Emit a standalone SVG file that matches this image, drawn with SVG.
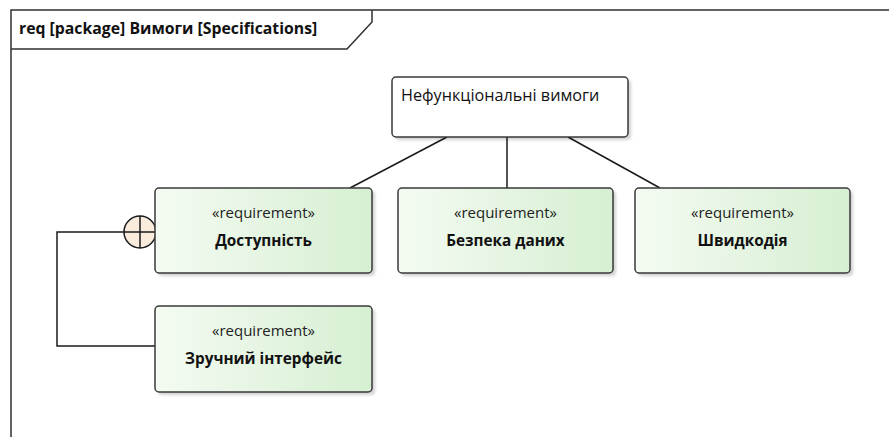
<svg xmlns="http://www.w3.org/2000/svg" width="889" height="437" viewBox="0 0 889 437">
  <style>
    .frame { fill: none; stroke: #303030; stroke-width: 1.5; }
    .line { fill: none; stroke: #1a1a1a; stroke-width: 1.5; }
    .req { fill: url(#reqFill); stroke: #3a3a3a; stroke-width: 1.5; }
    .shadow { fill: #000; opacity: 0.18; filter: url(#soft); }
    .plain { fill: #fff; stroke: #3a3a3a; stroke-width: 1.5; }
    text { font-family: "Open Sans", "Noto Sans", "Liberation Sans", sans-serif; fill: #111; }
    .title { font-size: 15.8px; font-weight: bold; }
    .stereo { font-size: 15px; text-anchor: middle; fill: #222; }
    .name { font-size: 15.3px; font-weight: bold; text-anchor: middle; }
    .label { font-size: 16.2px; }
  </style>
  <defs>
    <linearGradient id="reqFill" x1="0" y1="0" x2="1" y2="0">
      <stop offset="0" stop-color="#f4fbf2"/>
      <stop offset="1" stop-color="#d6efd2"/>
    </linearGradient>
    <filter id="soft" x="-10%" y="-10%" width="120%" height="130%">
      <feGaussianBlur stdDeviation="1.5"/>
    </filter>
  </defs>

  <rect width="889" height="437" fill="#fff"/>

  <!-- package frame (extends past the visible area) -->
  <g id="frame">
    <path class="frame" d="M11,445 L11,10 L895,10"/>
    <path class="frame" d="M11,49 L347,49 L372,22 L372,10"/>
    <text class="title" x="19" y="34">req [package] Вимоги [Specifications]</text>
  </g>

  <!-- connectors -->
  <g id="connectors">
    <line class="line" x1="447" y1="137" x2="350" y2="188"/>
    <line class="line" x1="507" y1="137" x2="507" y2="188"/>
    <line class="line" x1="568" y1="137" x2="660" y2="188"/>
    <path class="line" d="M124,232 L57,232 L57,346 L155,346"/>
    <g id="containment">
      <circle cx="140" cy="232" r="16" fill="#f9ecdc" stroke="#1a1a1a" stroke-width="1.5"/>
      <line class="line" x1="140" y1="216" x2="140" y2="248"/>
      <line class="line" x1="124" y1="232" x2="156" y2="232"/>
    </g>
  </g>

  <g id="nonfunctional">
    <rect class="shadow" x="395" y="80" width="236" height="60" rx="4"/>
    <rect class="plain" x="392" y="77" width="236" height="60" rx="4"/>
    <text class="label" x="401" y="101">Нефункціональні вимоги</text>
  </g>

  <g id="accessibility">
    <rect class="shadow" x="158" y="191" width="217" height="85" rx="4"/>
    <rect class="req" x="155" y="188" width="217" height="85" rx="4"/>
    <text class="stereo" x="263.5" y="218">«requirement»</text>
    <text class="name" x="263.5" y="246">Доступність</text>
  </g>

  <g id="security">
    <rect class="shadow" x="401" y="191" width="215" height="85" rx="4"/>
    <rect class="req" x="398" y="188" width="215" height="85" rx="4"/>
    <text class="stereo" x="505.5" y="218">«requirement»</text>
    <text class="name" x="505.5" y="246">Безпека даних</text>
  </g>

  <g id="performance">
    <rect class="shadow" x="638" y="191" width="215" height="85" rx="4"/>
    <rect class="req" x="635" y="188" width="215" height="85" rx="4"/>
    <text class="stereo" x="742.5" y="218">«requirement»</text>
    <text class="name" x="742.5" y="246">Швидкодія</text>
  </g>

  <g id="usability">
    <rect class="shadow" x="158" y="309" width="217" height="86" rx="4"/>
    <rect class="req" x="155" y="306" width="217" height="86" rx="4"/>
    <text class="stereo" x="263.5" y="336">«requirement»</text>
    <text class="name" x="263.5" y="364">Зручний інтерфейс</text>
  </g>
</svg>
